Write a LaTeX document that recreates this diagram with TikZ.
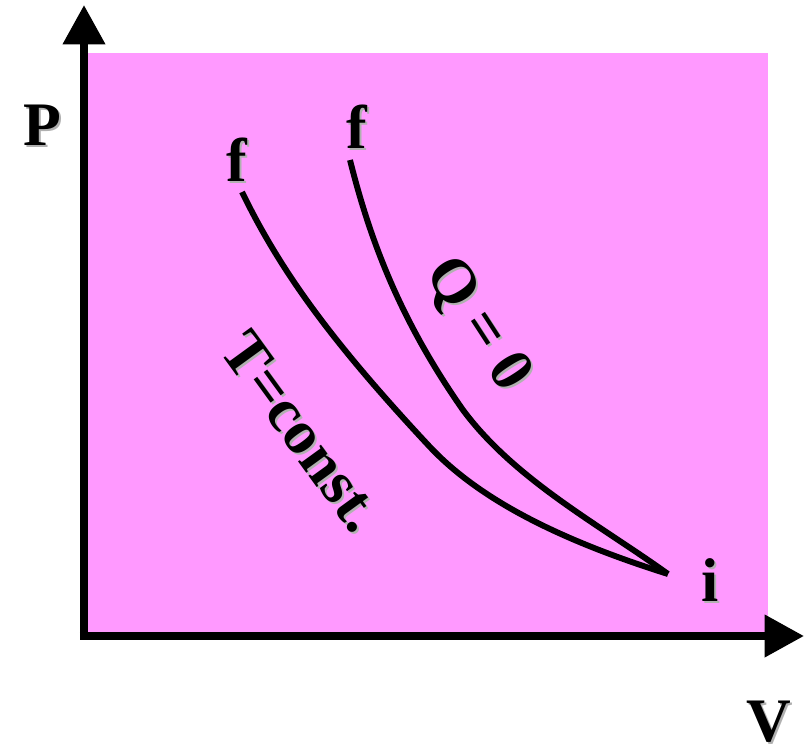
\documentclass[tikz,border=0pt]{standalone}
\usepackage{fontspec}
\setmainfont{Liberation Serif}
\usetikzlibrary{arrows.meta}
\definecolor{bgpink}{HTML}{FF99FF}
\definecolor{shade}{HTML}{B0B0B0}
\begin{document}
\begin{tikzpicture}[x=0.025cm,y=-0.025cm,
  axis/.style={line width=5.7pt,-{Triangle[length=28pt,width=29pt]}},
  curve/.style={line width=4.2pt,line cap=butt,line join=round},
  lbl/.style={font=\bfseries\fontsize{44}{44}\selectfont,text=black,inner sep=0pt},
  shd/.style={font=\bfseries\fontsize{44}{44}\selectfont,text=shade,inner sep=0pt}]
\useasboundingbox (0,0) rectangle (804,746);
\fill[bgpink] (88,53) rectangle (768,632);
% axes
\coordinate (O) at (84,636);
\coordinate (Ptop) at (84,5);
\coordinate (Vend) at (804,636);
\draw[axis] ([yshift=2.85pt]O) -- (Ptop);
\draw[axis] ([xshift=-2.85pt]O) -- (Vend);
% curves
\coordinate (i) at (668,574);
\coordinate (fT) at (242,192);
\coordinate (fQ) at (350,160);
\coordinate (mT) at (430,447);
\coordinate (mQ) at (463,410);
\draw[curve] (fT) .. controls (280,270) and (330,340) .. (mT)
                  .. controls (480,500) and (560,540) .. (i);
\draw[curve] (fQ) .. controls (370,240) and (400,320) .. (mQ)
                  .. controls (515,480) and (600,525) .. (i);
% labels
\node[shd] (Ps) at (44,127) {P};
\node[lbl] (P) at (42,125) {P};
\node[shd] (fTs) at (239,162) {f};
\node[lbl] (fTl) at (237,160) {f};
\node[shd] (fQs) at (359,129) {f};
\node[lbl] (fQl) at (357,127) {f};
\node[shd] (is) at (712,582) {i};
\node[lbl] (il) at (710,580) {i};
\node[shd] (Vs) at (771,724) {V};
\node[lbl] (Vl) at (769,722) {V};
\node[shd,rotate=-54] (Ts) at (304,434) {T=const.};
\node[lbl,rotate=-54] (Tl) at (302,432) {T=const.};
\node[shd,rotate=-57] (Qs) at (479,327) {Q = 0};
\node[lbl,rotate=-57] (Ql) at (477,325) {Q = 0};
\end{tikzpicture}
\end{document}
